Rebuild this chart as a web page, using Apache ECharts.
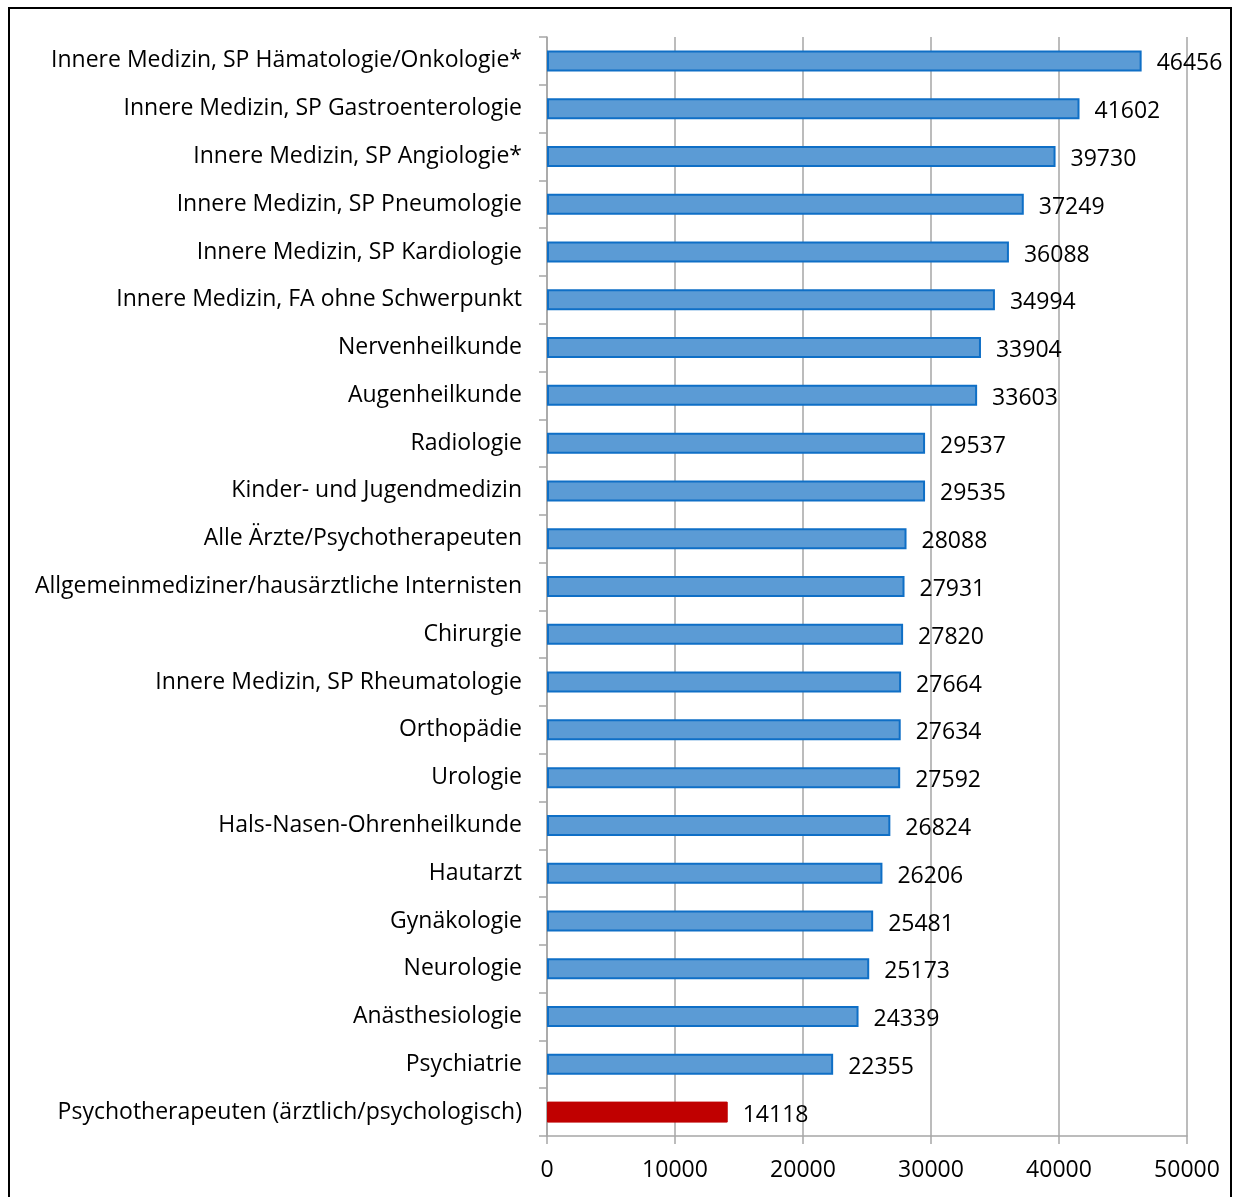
<!DOCTYPE html>
<html><head><meta charset="utf-8">
<script src="https://cdn.jsdelivr.net/npm/echarts@6/dist/echarts.min.js"></script>
<style>
html,body{margin:0;padding:0;background:#fff;}
#frame{position:absolute;left:8px;top:7px;width:1224px;height:1200px;border:2px solid #000;box-sizing:border-box;}
#c{position:absolute;left:0;top:0;width:1234px;height:1197px;}
</style></head>
<body>
<div id="frame"></div>
<div id="c"></div>
<script>
const categories = [
  "Innere Medizin, SP Hämatologie/Onkologie*",
  "Innere Medizin, SP Gastroenterologie",
  "Innere Medizin, SP Angiologie*",
  "Innere Medizin, SP Pneumologie",
  "Innere Medizin, SP Kardiologie",
  "Innere Medizin, FA ohne Schwerpunkt",
  "Nervenheilkunde",
  "Augenheilkunde",
  "Radiologie",
  "Kinder- und Jugendmedizin",
  "Alle Ärzte/Psychotherapeuten",
  "Allgemeinmediziner/hausärztliche Internisten",
  "Chirurgie",
  "Innere Medizin, SP Rheumatologie",
  "Orthopädie",
  "Urologie",
  "Hals-Nasen-Ohrenheilkunde",
  "Hautarzt",
  "Gynäkologie",
  "Neurologie",
  "Anästhesiologie",
  "Psychiatrie",
  "Psychotherapeuten (ärztlich/psychologisch)"
];
const values = [46456,41602,39730,37249,36088,34994,33904,33603,29537,29535,28088,27931,27820,27664,27634,27592,26824,26206,25481,25173,24339,22355,14118];
const highlightIndex = [22];
const xTicks = [0,10000,20000,30000,40000,50000];

const FONT = "Open Sans";
const FS = 23;
const chart = echarts.init(document.getElementById('c'), null, {renderer:'canvas'});
chart.setOption({
  animation:false,
  grid:{left:547,right:47,top:37,bottom:61,containLabel:false},
  xAxis:{
    type:'value',min:xTicks[0],max:xTicks[xTicks.length-1],interval:10000,
    axisLine:{show:true,lineStyle:{color:'#a6a6a6',width:1.5}},
    axisTick:{show:true,length:8,lineStyle:{color:'#a6a6a6',width:1.5}},
    splitLine:{show:true,lineStyle:{color:'#a6a6a6',width:1.5}},
    axisLabel:{color:'#000',fontFamily:FONT,fontSize:FS,margin:23,formatter:v=>String(v)}
  },
  yAxis:{
    type:'category',data:categories,inverse:true,
    axisLine:{show:true,lineStyle:{color:'#a6a6a6',width:1.5}},
    axisTick:{show:true,length:8,lineStyle:{color:'#a6a6a6',width:1.5}},
    axisLabel:{color:'#000',fontFamily:FONT,fontSize:FS,margin:25,padding:[5,0,0,0]}
  },
  series:[{
    type:'bar',barWidth:21,
    data:values.map((v,i)=>highlightIndex.includes(i)
      ? {value:v,itemStyle:{color:'#c00000',borderColor:'#c00000',borderWidth:1}}
      : {value:v}),
    itemStyle:{color:'#5b9bd5',borderColor:'#0f6fc6',borderWidth:2},
    label:{show:true,position:'right',distance:15,color:'#000',fontFamily:FONT,fontSize:FS,offset:[0,3]}
  }]
});
</script>
</body></html>
